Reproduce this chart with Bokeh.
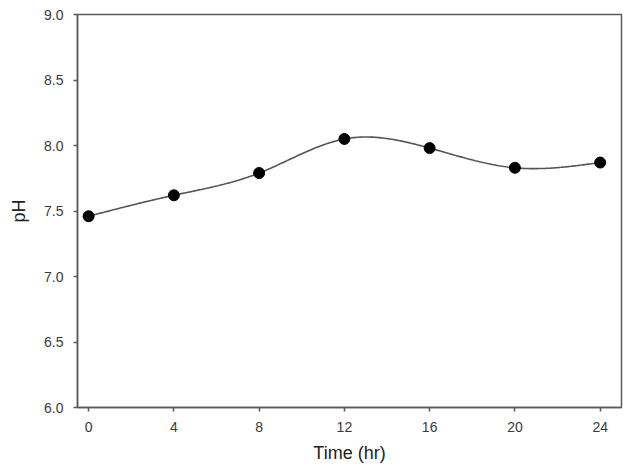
import numpy as np
from bokeh.plotting import figure
from bokeh.models import Range1d, FixedTicker, ColumnDataSource, CustomJSTickFormatter
from bokeh.embed import file_html
from bokeh.resources import INLINE

time_hr = [0, 4, 8, 12, 16, 20, 24]
ph = [7.46, 7.62, 7.79, 8.05, 7.98, 7.83, 7.87]
x_ticks = [0, 4, 8, 12, 16, 20, 24]
y_ticks = [6.0, 6.5, 7.0, 7.5, 8.0, 8.5, 9.0]


def natural_spline(xs, ys, n=300):
    xs = np.asarray(xs, float)
    ys = np.asarray(ys, float)
    k = len(xs)
    h = np.diff(xs)
    A = np.zeros((k, k))
    b = np.zeros(k)
    A[0, 0] = 1
    A[-1, -1] = 1
    for i in range(1, k - 1):
        A[i, i - 1] = h[i - 1]
        A[i, i] = 2 * (h[i - 1] + h[i])
        A[i, i + 1] = h[i]
        b[i] = 6 * ((ys[i + 1] - ys[i]) / h[i] - (ys[i] - ys[i - 1]) / h[i - 1])
    M = np.linalg.solve(A, b)
    xx = np.linspace(xs[0], xs[-1], n)
    yy = np.empty_like(xx)
    for j, x in enumerate(xx):
        i = min(np.searchsorted(xs, x, side="right") - 1, k - 2)
        t1 = xs[i + 1] - x
        t0 = x - xs[i]
        hi = h[i]
        yy[j] = (M[i] * t1 ** 3 / (6 * hi) + M[i + 1] * t0 ** 3 / (6 * hi)
                 + (ys[i] / hi - M[i] * hi / 6) * t1
                 + (ys[i + 1] / hi - M[i + 1] * hi / 6) * t0)
    return xx, yy


sx, sy = natural_spline(time_hr, ph)

p = figure(frame_width=544, frame_height=393, output_backend="svg", toolbar_location=None,
           x_range=Range1d(-0.52, 25.0), y_range=Range1d(6.0, 9.0),
           min_border_left=77, min_border_right=2, min_border_top=14,
           min_border_bottom=10)
p.xgrid.visible = False
p.ygrid.visible = False
p.outline_line_color = "#5a5a5a"
p.outline_line_width = 1.5
p.background_fill_color = "white"
p.border_fill_color = "white"

p.line(sx, sy, line_color="#555555", line_width=1.6)
src = ColumnDataSource(dict(x=time_hr, y=ph))
p.scatter("x", "y", source=src, size=11, fill_color="black", line_color="black")

for ax in (p.xaxis[0], p.yaxis[0]):
    ax.axis_line_color = "#5a5a5a"
    ax.axis_line_width = 1.5
    ax.major_tick_line_color = "#5a5a5a"
    ax.major_tick_line_width = 1.5
    ax.major_tick_out = 4
    ax.major_tick_in = 0
    ax.minor_tick_line_color = None
    ax.major_label_text_font = "Liberation Sans"
    ax.major_label_text_font_size = "14px"
    ax.major_label_text_color = "#3a3a3a"
    ax.axis_label_text_font = "Liberation Sans"
    ax.axis_label_text_font_size = "18px"
    ax.axis_label_text_font_style = "normal"
    ax.axis_label_text_color = "#222222"

p.xaxis.ticker = FixedTicker(ticks=x_ticks)
p.yaxis.ticker = FixedTicker(ticks=y_ticks)
p.yaxis.formatter = CustomJSTickFormatter(code="return tick.toFixed(1);")
p.xaxis.axis_label = "Time (hr)"
p.yaxis.axis_label = "pH"
p.xaxis.major_label_standoff = 10
p.yaxis.major_label_standoff = 10
p.xaxis.axis_label_standoff = 8
p.yaxis.axis_label_standoff = 12

open("out.html", "w").write(file_html(p, INLINE))
